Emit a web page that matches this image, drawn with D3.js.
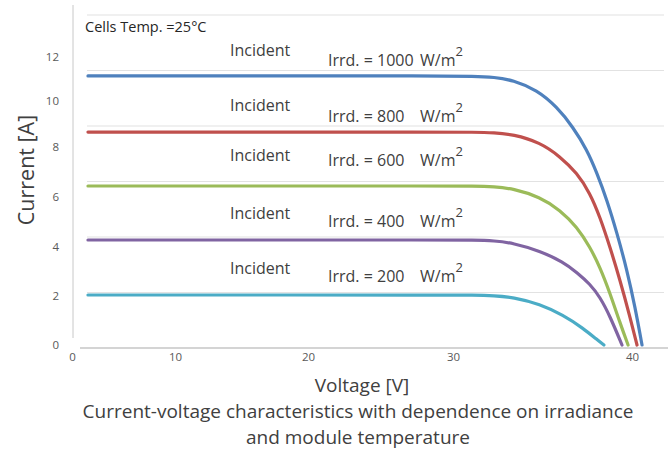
<!DOCTYPE html>
<html>
<head>
<meta charset="utf-8">
<script src="https://cdn.jsdelivr.net/npm/d3@7"></script>
<style>
  html, body { margin: 0; padding: 0; background: #fff; }
  svg { display: block; }
  text { font-family: "Open Sans", "Noto Sans", sans-serif; }
</style>
</head>
<body>
<svg id="chart" width="671" height="461"></svg>
<script>
// ---------------- data ----------------
const xTicks = [0, 10, 20, 30, 40];
const yTicks = [0, 2, 4, 6, 8, 10, 12];
const irradiance = [1000, 800, 600, 400, 200];
const seriesColors = ["#4F81BD", "#C0504D", "#9BBB59", "#8064A2", "#4BACC6"];

// [voltage V, current A]
const curve1000 = [[1.55,11.14],[15,11.14],[29,11.14],[31.2,11.13],[32.3,11.08],[33.35,10.95],[34.69,10.5],[35.81,9.74],[36.70,8.87],[37.49,7.88],[38.04,6.96],[38.60,5.88],[39.16,4.56],[39.72,3.06],[40.17,1.55],[40.56,0]];
const curve800  = [[1.55,8.65],[15,8.65],[29,8.65],[31.2,8.645],[32.3,8.62],[33.35,8.55],[34.86,8.2],[35.98,7.62],[36.93,6.96],[37.65,6.16],[38.21,5.2],[38.77,4.0],[39.33,2.65],[39.89,1.14],[40.28,0]];
const curve600  = [[1.55,6.44],[15,6.44],[29,6.44],[31.2,6.435],[32.3,6.41],[33.35,6.34],[34.86,6.0],[35.98,5.48],[36.93,4.8],[37.65,4.0],[38.21,3.18],[38.77,2.12],[39.33,0.9],[39.78,0]];
const curve400  = [[1.55,4.28],[15,4.28],[29,4.28],[31.2,4.275],[32.3,4.25],[33.35,4.16],[34.86,3.84],[36.15,3.39],[36.93,2.96],[37.65,2.49],[38.21,1.96],[38.77,1.18],[39.44,0]];
const curve200  = [[1.55,2.04],[15,2.04],[29,2.04],[31.2,2.035],[32.3,2.01],[33.35,1.95],[34.86,1.67],[36.15,1.22],[37.26,0.69],[38.04,0.22],[38.43,0]];
const curves = [curve1000, curve800, curve600, curve400, curve200];

// ---------------- layout ----------------
const svg = d3.select("#chart");
const xPix = [72, 175, 308, 453, 632];
const yPix = [345, 296, 247, 197, 147, 101, 57];
const x = d3.scaleLinear().domain(xTicks).range(xPix);
const y = d3.scaleLinear().domain(yTicks).range(yPix);
const grid = d3.scaleLinear().domain([0, 6]).range([348, 15]);

// gridlines
svg.append("g").selectAll("line").data(d3.range(0, 6)).join("line")
  .attr("x1", 87).attr("x2", 664)
  .attr("y1", d => grid(d + 1)).attr("y2", d => grid(d + 1))
  .attr("stroke", "#e2e2e2").attr("stroke-width", 1.2);

// bottom axis line
svg.append("line").attr("x1", 80).attr("x2", 668).attr("y1", 348).attr("y2", 348)
  .attr("stroke", "#d4d4d4").attr("stroke-width", 2);
// left axis line
svg.append("line").attr("x1", 73).attr("x2", 73).attr("y1", 5).attr("y2", 338)
  .attr("stroke", "#c8c8c8").attr("stroke-width", 1);

// axes (labels only)
const yAxis = svg.append("g").attr("transform", "translate(73,0)")
  .call(d3.axisLeft(y).tickValues(yTicks).tickSize(0).tickPadding(14));
const xAxis = svg.append("g").attr("transform", "translate(0,348)")
  .call(d3.axisBottom(x).tickValues(xTicks).tickSize(0).tickPadding(5));
[yAxis, xAxis].forEach(a => {
  a.select(".domain").remove();
  a.selectAll("text").attr("fill", "#595959").style("font-size", "11.5px")
    .style("font-family", "'Open Sans', sans-serif");
});

// curves
const line = d3.line().x(d => x(d[0])).y(d => y(d[1])).curve(d3.curveBasis);
svg.append("g").selectAll("path").data(curves).join("path")
  .attr("d", line)
  .attr("fill", "none")
  .attr("stroke", (d, i) => seriesColors[i])
  .attr("stroke-width", 3.2)
  .attr("stroke-linecap", "round")
  .attr("stroke-linejoin", "round");

// annotations
const incidentBase = [56, 111, 161, 219, 274];
const irrdBase = [66, 122, 166, 227, 282];
const ann = svg.append("g").attr("fill", "#404040").style("font-size", "16px");
irradiance.forEach((v, i) => {
  ann.append("text").attr("x", 230).attr("y", incidentBase[i]).text("Incident");
  ann.append("text").attr("x", 328).attr("y", irrdBase[i]).text("Irrd. = " + v);
  const u = ann.append("text").attr("x", 420).attr("y", irrdBase[i]);
  u.append("tspan").text("W/m");
  u.append("tspan").attr("dy", -10).style("font-size", "13px").text("2");
});

svg.append("text").attr("x", 85).attr("y", 32).attr("fill", "#262626")
  .style("font-size", "14.5px").text("Cells Temp. =25\u00B0C");

// axis titles
svg.append("text").attr("x", 362).attr("y", 392).attr("text-anchor", "middle")
  .attr("fill", "#404040").style("font-size", "19px").text("Voltage [V]");
svg.append("text").attr("transform", "translate(34,170) rotate(-90)")
  .attr("text-anchor", "middle").attr("fill", "#404040").style("font-size", "21.5px")
  .text("Current [A]");

// caption
const cap = ["Current-voltage characteristics with dependence on irradiance", "and module temperature"];
svg.append("g").selectAll("text").data(cap).join("text")
  .attr("x", 358).attr("y", (d, i) => 418 + i * 26).attr("text-anchor", "middle")
  .attr("fill", "#404040").style("font-size", "19px").text(d => d);
</script>
</body>
</html>
